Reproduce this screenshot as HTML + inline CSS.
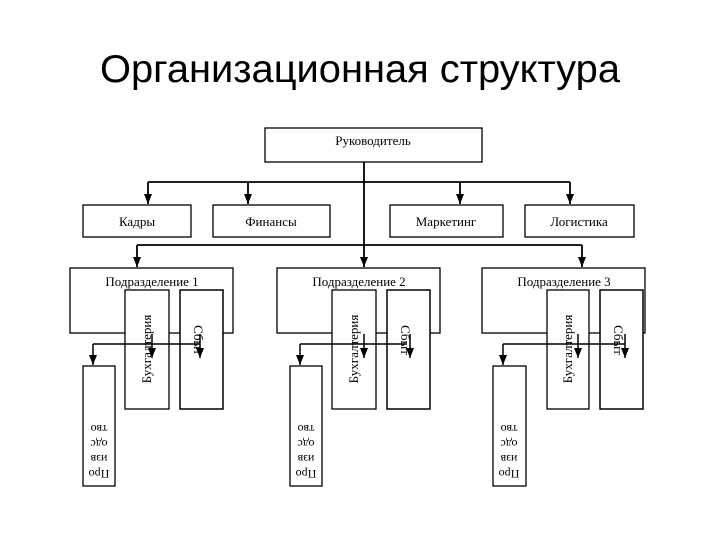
<!DOCTYPE html>
<html><head><meta charset="utf-8"><style>
body{margin:0;width:720px;height:540px;background:#fff;overflow:hidden}
</style></head><body>
<svg width="720" height="540" xmlns="http://www.w3.org/2000/svg" font-family="Liberation Serif, serif">
<defs><marker id="a" markerWidth="10" markerHeight="8" refX="10" refY="4" orient="auto" markerUnits="userSpaceOnUse"><path d="M0,0 L10,4 L0,8 z" fill="#000"/></marker></defs>
<text x="360" y="82" text-anchor="middle" font-family="Liberation Sans, sans-serif" font-size="39" fill="#000" textLength="520" lengthAdjust="spacingAndGlyphs">Организационная структура</text>
<g stroke="#000" stroke-width="1.3" fill="#fff">
<rect x="265" y="128" width="217" height="34"/>
<rect x="83" y="205" width="108" height="32"/>
<rect x="213" y="205" width="117" height="32"/>
<rect x="390" y="205" width="113" height="32"/>
<rect x="525" y="205" width="109" height="32"/>
</g>
<g stroke="#000" stroke-width="1.8" fill="none">
<line x1="364" y1="162" x2="364" y2="267" marker-end="url(#a)"/>
<line x1="148" y1="182" x2="570" y2="182"/>
<line x1="148" y1="182" x2="148" y2="204" marker-end="url(#a)"/>
<line x1="248" y1="182" x2="248" y2="204" marker-end="url(#a)"/>
<line x1="460" y1="182" x2="460" y2="204" marker-end="url(#a)"/>
<line x1="570" y1="182" x2="570" y2="204" marker-end="url(#a)"/>
<line x1="137" y1="245" x2="582" y2="245"/>
<line x1="137" y1="245" x2="137" y2="267" marker-end="url(#a)"/>
<line x1="582" y1="245" x2="582" y2="267" marker-end="url(#a)"/>
</g>
<g font-size="13" text-anchor="middle" fill="#000">
<text x="373" y="145">Руководитель</text>
<text x="137" y="226">Кадры</text>
<text x="271" y="226">Финансы</text>
<text x="446" y="226">Маркетинг</text>
<text x="579" y="226">Логистика</text>
</g>

<g>
<rect x="70" y="268" width="163" height="65" fill="#fff" stroke="#000" stroke-width="1.3"/>
<text x="152" y="286" font-size="13" text-anchor="middle">Подразделение 1</text>
<rect x="125" y="290" width="44" height="119" fill="#fff" stroke="#000" stroke-width="1.3"/>
<rect x="180" y="290" width="43" height="119" fill="#fff" stroke="#000" stroke-width="1.5"/>
<rect x="83" y="366" width="32" height="120" fill="#fff" stroke="#000" stroke-width="1.3"/>
<line x1="93" y1="344" x2="200" y2="344" stroke="#000" stroke-width="1.5"/>
<line x1="93" y1="344" x2="93" y2="365" stroke="#000" stroke-width="1.5" marker-end="url(#a)"/>
<line x1="152" y1="334" x2="152" y2="358" stroke="#000" stroke-width="1.5" marker-end="url(#a)"/>
<line x1="200" y1="334" x2="200" y2="358" stroke="#000" stroke-width="1.5" marker-end="url(#a)"/>
<text transform="translate(151,349) rotate(-90)" font-size="13" text-anchor="middle">Бухгалтерия</text>
<text transform="translate(194,340) rotate(90)" font-size="13" text-anchor="middle">Сбыт</text>
<g transform="translate(99,440) rotate(180)" font-size="12" text-anchor="middle">
<text x="0" y="-30">Про</text><text x="0" y="-15">изв</text><text x="0" y="0">одс</text><text x="0" y="15">тво</text>
</g>
</g>

<g transform="translate(207,0)">
<rect x="70" y="268" width="163" height="65" fill="#fff" stroke="#000" stroke-width="1.3"/>
<text x="152" y="286" font-size="13" text-anchor="middle">Подразделение 2</text>
<rect x="125" y="290" width="44" height="119" fill="#fff" stroke="#000" stroke-width="1.3"/>
<rect x="180" y="290" width="43" height="119" fill="#fff" stroke="#000" stroke-width="1.5"/>
<rect x="83" y="366" width="32" height="120" fill="#fff" stroke="#000" stroke-width="1.3"/>
<line x1="93" y1="344" x2="200" y2="344" stroke="#000" stroke-width="1.5"/>
<line x1="93" y1="344" x2="93" y2="365" stroke="#000" stroke-width="1.5" marker-end="url(#a)"/>
<line x1="157" y1="334" x2="157" y2="358" stroke="#000" stroke-width="1.5" marker-end="url(#a)"/>
<line x1="203" y1="334" x2="203" y2="358" stroke="#000" stroke-width="1.5" marker-end="url(#a)"/>
<text transform="translate(151,349) rotate(-90)" font-size="13" text-anchor="middle">Бухгалтерия</text>
<text transform="translate(194,340) rotate(90)" font-size="13" text-anchor="middle">Сбыт</text>
<g transform="translate(99,440) rotate(180)" font-size="12" text-anchor="middle">
<text x="0" y="-30">Про</text><text x="0" y="-15">изв</text><text x="0" y="0">одс</text><text x="0" y="15">тво</text>
</g>
</g>

<g transform="translate(412,0)">
<rect x="70" y="268" width="163" height="65" fill="#fff" stroke="#000" stroke-width="1.3"/>
<text x="152" y="286" font-size="13" text-anchor="middle">Подразделение 3</text>
<rect x="135" y="290" width="42" height="119" fill="#fff" stroke="#000" stroke-width="1.3"/>
<rect x="188" y="290" width="43" height="119" fill="#fff" stroke="#000" stroke-width="1.5"/>
<rect x="81" y="366" width="33" height="120" fill="#fff" stroke="#000" stroke-width="1.3"/>
<line x1="91" y1="344" x2="213" y2="344" stroke="#000" stroke-width="1.5"/>
<line x1="91" y1="344" x2="91" y2="365" stroke="#000" stroke-width="1.5" marker-end="url(#a)"/>
<line x1="166" y1="334" x2="166" y2="358" stroke="#000" stroke-width="1.5" marker-end="url(#a)"/>
<line x1="213" y1="334" x2="213" y2="358" stroke="#000" stroke-width="1.5" marker-end="url(#a)"/>
<text transform="translate(160,349) rotate(-90)" font-size="13" text-anchor="middle">Бухгалтерия</text>
<text transform="translate(202,340) rotate(90)" font-size="13" text-anchor="middle">Сбыт</text>
<g transform="translate(97,440) rotate(180)" font-size="12" text-anchor="middle">
<text x="0" y="-30">Про</text><text x="0" y="-15">изв</text><text x="0" y="0">одс</text><text x="0" y="15">тво</text>
</g>
</g>
</svg>
</body></html>
